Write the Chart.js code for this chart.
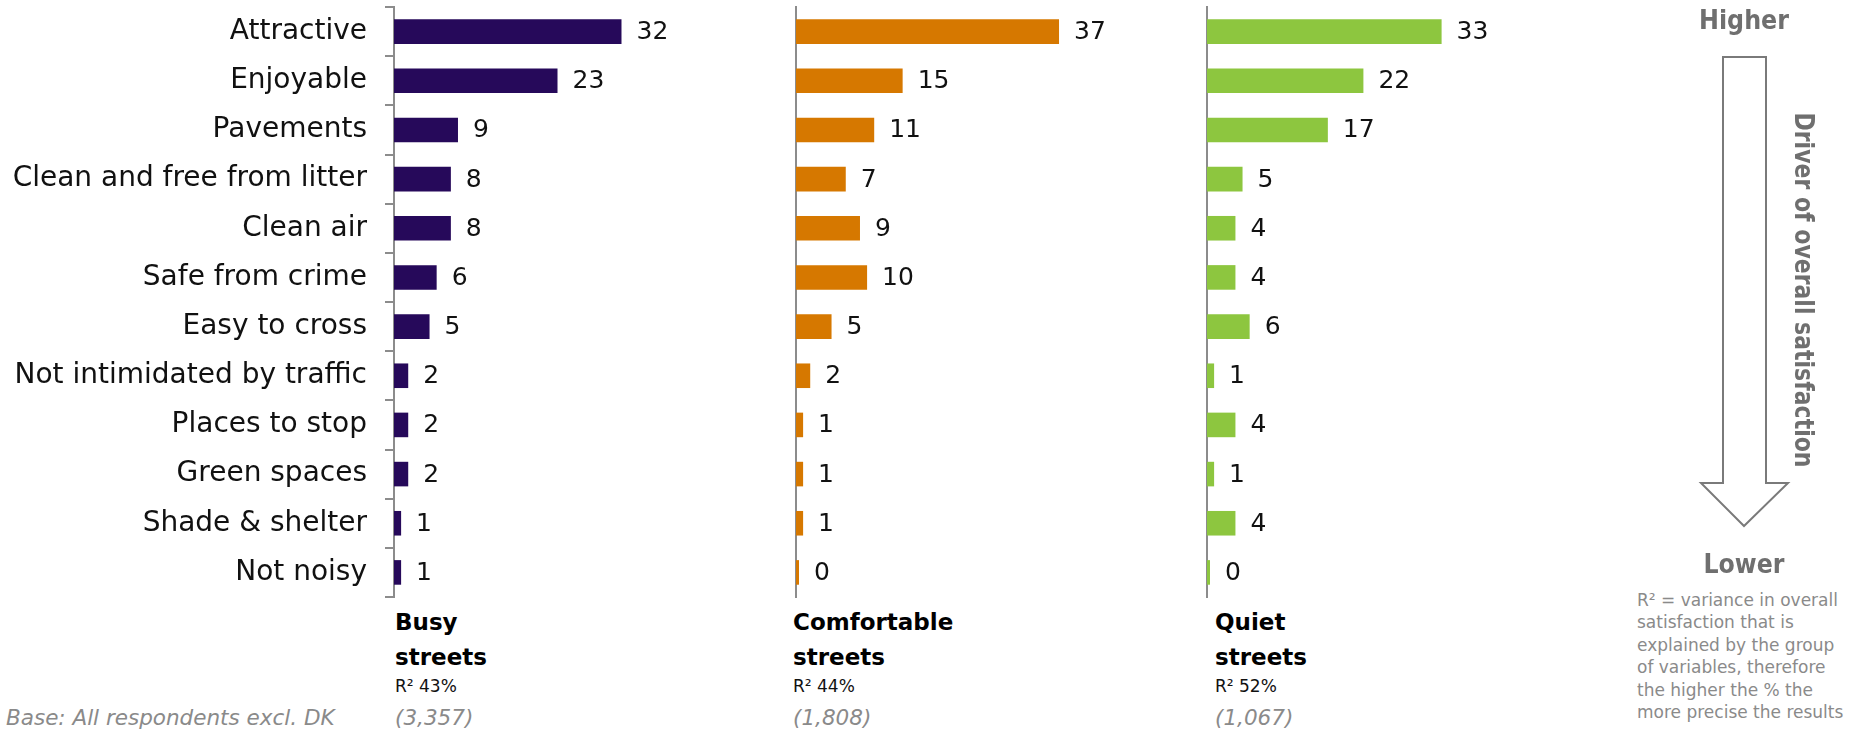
<!DOCTYPE html>
<html>
<head>
<meta charset="utf-8">
<script src="https://cdn.jsdelivr.net/npm/chart.js@4.4.1/dist/chart.umd.min.js"></script>
<style>
  body { margin: 0; background: #fff; width: 1854px; height: 733px; position: relative; overflow: hidden;
         font-family: "DejaVu Sans", sans-serif; color: #111; }
  canvas { position: absolute; top: 0; }
  .txt { position: absolute; white-space: nowrap; }
  .titulo { font-weight: bold; font-size: 23px; line-height: 35px; color: #000; }
  .r2 { font-size: 17px; }
  .base { font-style: italic; font-size: 21.5px; color: #8a8a8a; }
  .nota { font-size: 17px; line-height: 22.4px; color: #8a8a8a; }
</style>
</head>
<body>

<canvas id="graficoBusy" width="785" height="604" style="left:0px"></canvas>
<canvas id="graficoComfortable" width="395" height="604" style="left:792px"></canvas>
<canvas id="graficoQuiet" width="395" height="604" style="left:1203px"></canvas>

<div class="txt titulo" style="left:395px; top:605px">Busy<br>streets</div>
<div class="txt titulo" style="left:793px; top:605px">Comfortable<br>streets</div>
<div class="txt titulo" style="left:1215px; top:605px">Quiet<br>streets</div>

<div class="txt r2" style="left:395px; top:676px">R² 43%</div>
<div class="txt r2" style="left:793px; top:676px">R² 44%</div>
<div class="txt r2" style="left:1215px; top:676px">R² 52%</div>

<div class="txt base" style="left:6px; top:705px">Base: All respondents excl. DK</div>
<div class="txt base" style="left:395px; top:705px">(3,357)</div>
<div class="txt base" style="left:793px; top:705px">(1,808)</div>
<div class="txt base" style="left:1215px; top:705px">(1,067)</div>

<div class="txt nota" style="left:1637px; top:589px">R² = variance in overall<br>satisfaction that is<br>explained by the group<br>of variables, therefore<br>the higher the % the<br>more precise the results</div>

<!-- flecha de importancia a la derecha -->
<svg width="1854" height="600" style="position:absolute; left:0; top:0">
  <g fill="#6f6f6f" font-family="DejaVu Sans" font-weight="bold">
    <text x="1744" y="29" font-size="26" text-anchor="middle" textLength="90" lengthAdjust="spacingAndGlyphs">Higher</text>
    <text x="1744" y="573" font-size="26" text-anchor="middle" textLength="81" lengthAdjust="spacingAndGlyphs">Lower</text>
    <text transform="translate(1795,290) rotate(90)" font-size="27" text-anchor="middle" textLength="355" lengthAdjust="spacingAndGlyphs">Driver of overall satisfaction</text>
  </g>
  <polygon points="1723,57 1766,57 1766,483 1788,483 1744,526 1701,483 1723,483"
           fill="#fff" stroke="#7a7a7a" stroke-width="2"/>
</svg>

<script>
const categorias = ['Attractive', 'Enjoyable', 'Pavements', 'Clean and free from litter', 'Clean air',
  'Safe from crime', 'Easy to cross', 'Not intimidated by traffic', 'Places to stop', 'Green spaces',
  'Shade & shelter', 'Not noisy'];
const valoresBusy = [32, 23, 9, 8, 8, 6, 5, 2, 2, 2, 1, 1];
const valoresComfortable = [37, 15, 11, 7, 9, 10, 5, 2, 1, 1, 1, 0];
const valoresQuiet = [33, 22, 17, 5, 4, 4, 6, 1, 4, 1, 4, 0];

const maxEje = 55;

// numeros al final de cada barra
const etiquetasValor = {
  id: 'etiquetasValor',
  afterDatasetsDraw(chart) {
    const ctx = chart.ctx;
    const datos = chart.data.datasets[0].data;
    ctx.save();
    ctx.font = '25px "DejaVu Sans"';
    ctx.fillStyle = '#111';
    ctx.textBaseline = 'middle';
    chart.getDatasetMeta(0).data.forEach((barra, i) => {
      ctx.fillText(datos[i], barra.x + 15, barra.y + 1);
    });
    ctx.restore();
  }
};

function grafico(id, valores, color, conEtiquetas, anchoEje) {
  const ctx = document.getElementById(id).getContext('2d');
  return new Chart(ctx, {
    type: 'bar',
    data: {
      labels: categorias,
      datasets: [{
        data: valores,
        backgroundColor: color,
        borderWidth: 0,
        barPercentage: 0.5,
        categoryPercentage: 1,
        minBarLength: 3
      }]
    },
    options: {
      indexAxis: 'y',
      responsive: false,
      animation: false,
      layout: { padding: { top: 7, bottom: 7, left: 0, right: 0 } },
      plugins: { legend: { display: false }, tooltip: { enabled: false } },
      scales: {
        x: { display: false, min: 0, max: maxEje },
        y: {
          grid: { display: conEtiquetas, drawOnChartArea: false, tickLength: 9, color: '#8c8c8c', lineWidth: 2 },
          border: { display: true, color: '#8c8c8c', width: 2 },
          ticks: { display: conEtiquetas, padding: 18, color: '#111', font: { size: 28, family: 'DejaVu Sans' } },
          afterFit: function (escala) {
            // mismo ancho y alto de area en los tres paneles
            escala.width = anchoEje;
            escala.paddingTop = 0;
            escala.paddingBottom = 0;
          }
        }
      }
    },
    plugins: [etiquetasValor]
  });
}

grafico('graficoBusy', valoresBusy, '#26095A', true, 394);
grafico('graficoComfortable', valoresComfortable, '#D67800', false, 4);
grafico('graficoQuiet', valoresQuiet, '#8DC63F', false, 4);
</script>
</body>
</html>
